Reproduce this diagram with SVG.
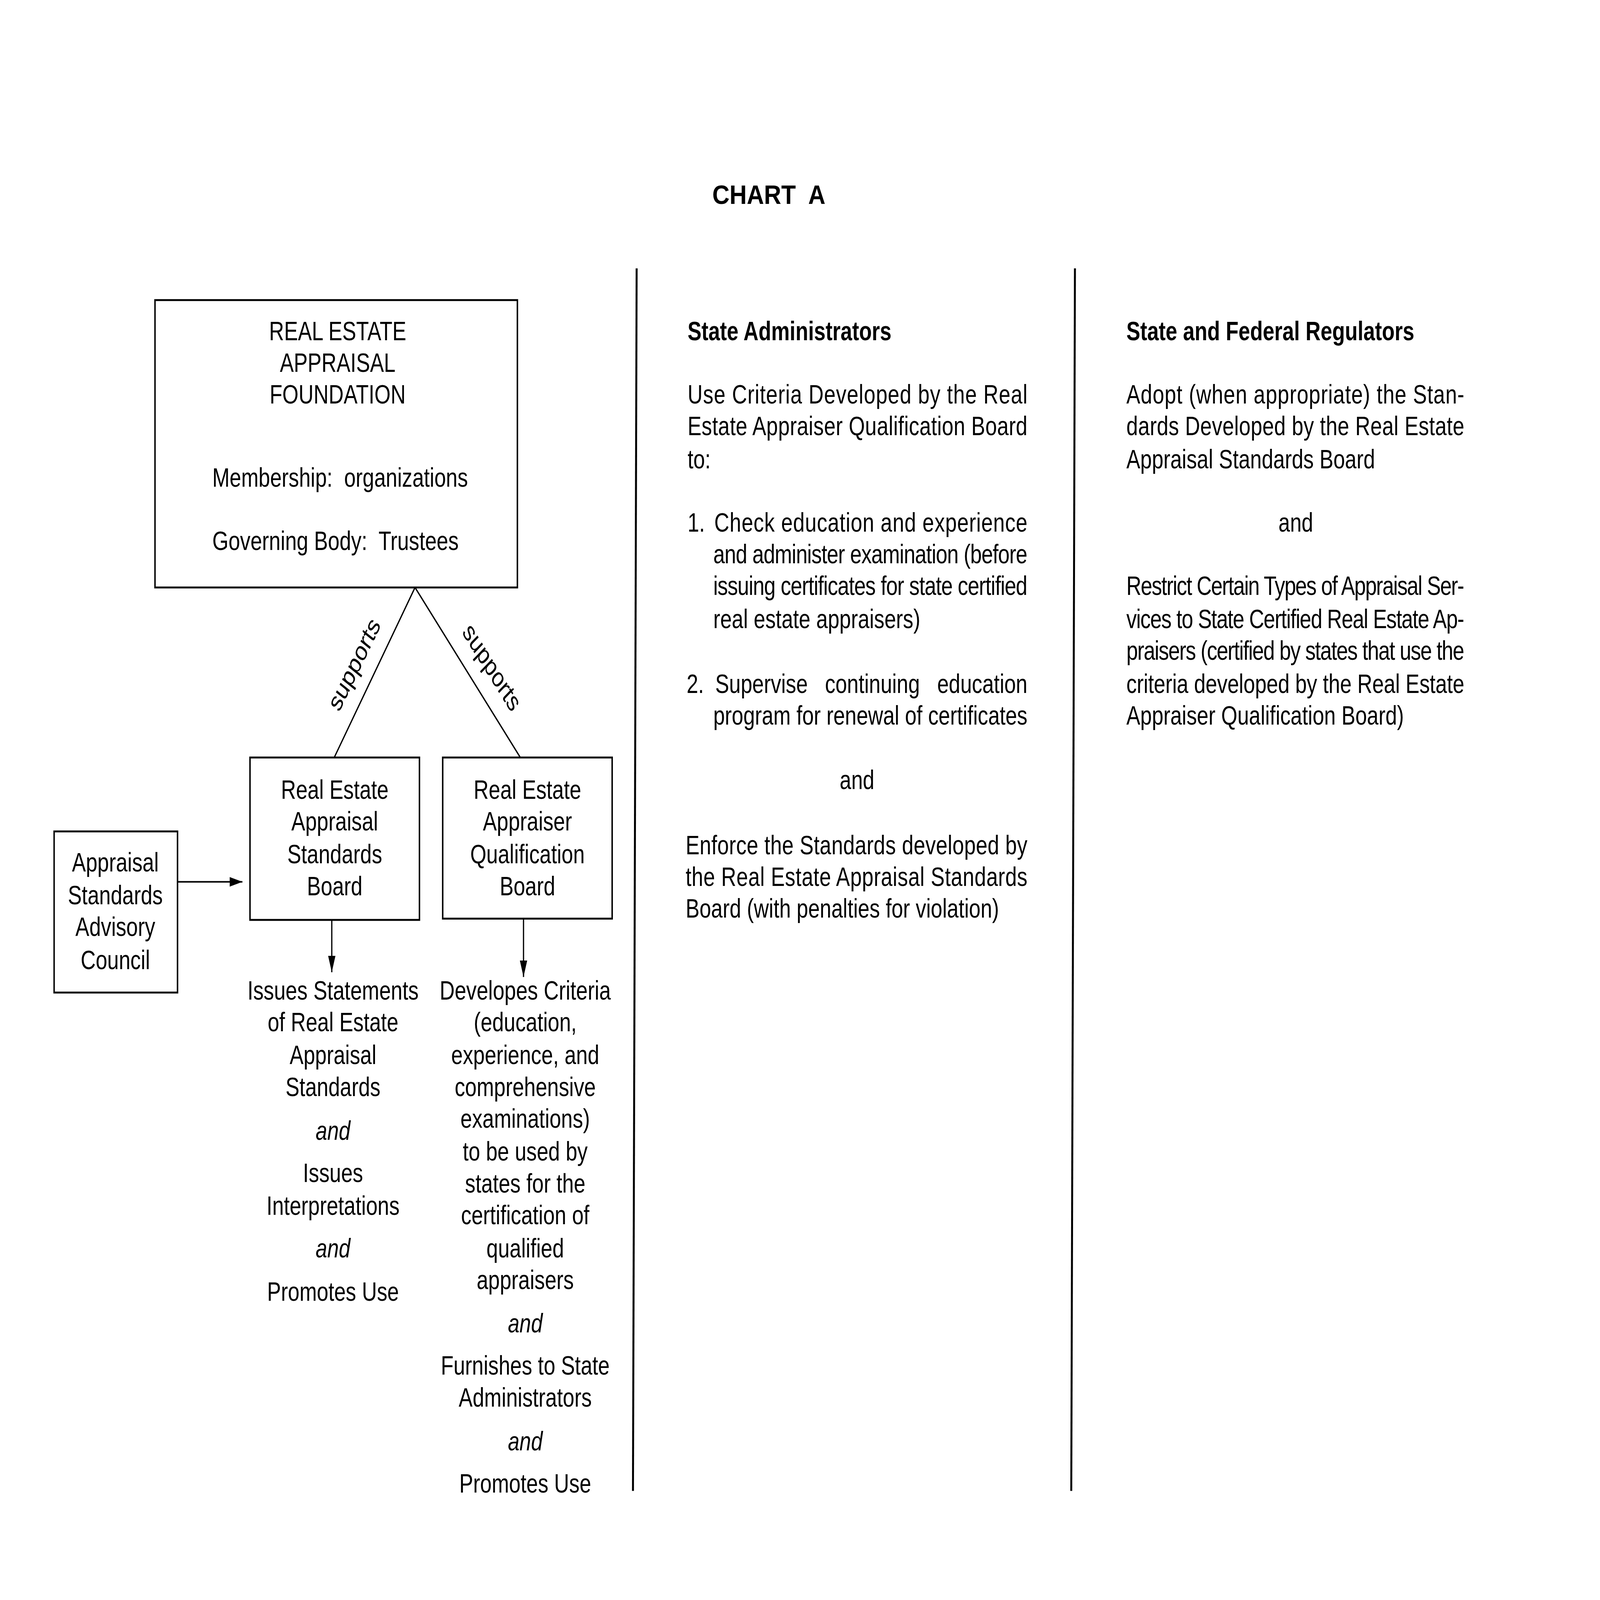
<svg xmlns="http://www.w3.org/2000/svg" width="6467" height="4992" viewBox="0 0 6467 4992" preserveAspectRatio="none">
<style>
svg{width:100vw;height:100vh}
text{font-family:"Liberation Sans",Arial,Helvetica,sans-serif;fill:#000;font-size:85px}
.c{text-anchor:middle}
.e{text-anchor:end}
.b{font-weight:bold}
.i{font-style:italic}
.box{fill:#fff;stroke:#000;stroke-width:6}
.ln{stroke:#000;stroke-width:5;fill:none}
.div{stroke:#000;stroke-width:8;fill:none}
</style>
<defs>
<marker id="ah" viewBox="0 0 10 10" refX="10" refY="5" markerUnits="userSpaceOnUse" markerWidth="52" markerHeight="30" orient="auto" preserveAspectRatio="none">
<path d="M0,0 L10,5 L0,10 z" fill="#000"/>
</marker>
</defs>
<rect width="6467" height="4992" fill="#fff"/>
<g id="chart" transform="scale(0.9897)">
<text id="title" class="c b" x="3140" y="643" font-size="100" textLength="462" lengthAdjust="spacingAndGlyphs" xml:space="preserve">CHART  A</text>
<g id="dividers">
<line class="div" x1="2600" y1="846" x2="2585" y2="4700"/>
<line class="div" x1="4390" y1="846" x2="4375" y2="4700"/>
</g>
<g id="connectors">
<line class="ln" x1="1695" y1="1852" x2="1365" y2="2388"/>
<line class="ln" x1="1695" y1="1852" x2="2125" y2="2388"/>
<text transform="translate(1471,2109) rotate(-58)" class="c" font-size="90">supports</text>
<text transform="translate(1987,2121) rotate(51.2)" class="c" font-size="90">supports</text>
<line class="ln" x1="725" y1="2780" x2="990" y2="2780" marker-end="url(#ah)"/>
<line class="ln" x1="1355" y1="2900" x2="1355" y2="3065" marker-end="url(#ah)"/>
<line class="ln" x1="2138" y1="2896" x2="2138" y2="3080" marker-end="url(#ah)"/>
</g>
<g id="foundation">
<rect class="box" x="633" y="946" width="1480" height="906"/>
<text class="c" x="1379" y="1072">REAL ESTATE</text>
<text class="c" x="1379" y="1172">APPRAISAL</text>
<text class="c" x="1379" y="1272">FOUNDATION</text>
<text x="867" y="1534" xml:space="preserve">Membership:  organizations</text>
<text x="867" y="1734" xml:space="preserve">Governing Body:  Trustees</text>
</g>
<g id="asac">
<rect class="box" x="221" y="2621" width="504" height="508"/>
<text class="c" x="471" y="2747">Appraisal</text>
<text class="c" x="471" y="2851">Standards</text>
<text class="c" x="471" y="2951">Advisory</text>
<text class="c" x="471" y="3055">Council</text>
</g>
<g id="assb">
<rect class="box" x="1021" y="2388" width="692" height="512"/>
<text class="c" x="1367" y="2518">Real Estate</text>
<text class="c" x="1367" y="2618">Appraisal</text>
<text class="c" x="1367" y="2722">Standards</text>
<text class="c" x="1367" y="2822">Board</text>
</g>
<g id="reaqb">
<rect class="box" x="1808" y="2388" width="692" height="508"/>
<text class="c" x="2154" y="2518">Real Estate</text>
<text class="c" x="2154" y="2618">Appraiser</text>
<text class="c" x="2154" y="2722">Qualification</text>
<text class="c" x="2154" y="2822">Board</text>
</g>
<g id="assb-text">
<text class="c" x="1360" y="3151">Issues Statements</text>
<text class="c" x="1360" y="3251">of Real Estate</text>
<text class="c" x="1360" y="3355">Appraisal</text>
<text class="c" x="1360" y="3455">Standards</text>
<text class="c i" x="1360" y="3593">and</text>
<text class="c" x="1360" y="3726">Issues</text>
<text class="c" x="1360" y="3830">Interpretations</text>
<text class="c i" x="1360" y="3964">and</text>
<text class="c" x="1360" y="4101">Promotes Use</text>
</g>
<g id="reaqb-text">
<text class="c" x="2145" y="3151">Developes Criteria</text>
<text class="c" x="2145" y="3251">(education,</text>
<text class="c" x="2145" y="3355">experience, and</text>
<text class="c" x="2145" y="3455">comprehensive</text>
<text class="c" x="2145" y="3555">examinations)</text>
<text class="c" x="2145" y="3659">to be used by</text>
<text class="c" x="2145" y="3759">states for the</text>
<text class="c" x="2145" y="3859">certification of</text>
<text class="c" x="2145" y="3964">qualified</text>
<text class="c" x="2145" y="4064">appraisers</text>
<text class="c i" x="2145" y="4201">and</text>
<text class="c" x="2145" y="4334">Furnishes to State</text>
<text class="c" x="2145" y="4434">Administrators</text>
<text class="c i" x="2145" y="4572">and</text>
<text class="c" x="2145" y="4705">Promotes Use</text>
</g>
<g id="state-administrators">
<text class="b" x="2808" y="1072">State Administrators</text>
<text x="2808" y="1272" textLength="1388" lengthAdjust="spacing">Use Criteria Developed by the Real</text>
<text x="2808" y="1372" textLength="1388" lengthAdjust="spacing">Estate Appraiser Qualification Board</text>
<text x="2808" y="1476">to:</text>
<text x="2808" y="1676">1.</text>
<text x="2917" y="1676" textLength="1279" lengthAdjust="spacing">Check education and experience</text>
<text x="2913" y="1776" textLength="1283" lengthAdjust="spacing">and administer examination (before</text>
<text x="2913" y="1876" textLength="1283" lengthAdjust="spacing">issuing certificates for state certified</text>
<text x="2913" y="1980">real estate appraisers)</text>
<text x="2804" y="2184">2.</text>
<text x="2921" y="2184">Supervise</text>
<text class="c" x="3563" y="2184">continuing</text>
<text class="e" x="4196" y="2184">education</text>
<text x="2913" y="2284" textLength="1283" lengthAdjust="spacing">program for renewal of certificates</text>
<text class="c" x="3500" y="2488">and</text>
<text x="2800" y="2693" textLength="1396" lengthAdjust="spacing">Enforce the Standards developed by</text>
<text x="2800" y="2793" textLength="1396" lengthAdjust="spacing">the Real Estate Appraisal Standards</text>
<text x="2800" y="2893">Board (with penalties for violation)</text>
</g>
<g id="regulators">
<text class="b" x="4600" y="1072">State and Federal Regulators</text>
<text x="4600" y="1272" textLength="1380" lengthAdjust="spacing">Adopt (when appropriate) the Stan-</text>
<text x="4600" y="1372" textLength="1380" lengthAdjust="spacing">dards Developed by the Real Estate</text>
<text x="4600" y="1476">Appraisal Standards Board</text>
<text class="c" x="5292" y="1676">and</text>
<text x="4600" y="1876" textLength="1380" lengthAdjust="spacing">Restrict Certain Types of Appraisal Ser-</text>
<text x="4600" y="1980" textLength="1380" lengthAdjust="spacing">vices to State Certified Real Estate Ap-</text>
<text x="4600" y="2080" textLength="1380" lengthAdjust="spacing">praisers (certified by states that use the</text>
<text x="4600" y="2184" textLength="1380" lengthAdjust="spacing">criteria developed by the Real Estate</text>
<text x="4600" y="2284">Appraiser Qualification Board)</text>
</g>
</g>
</svg>
